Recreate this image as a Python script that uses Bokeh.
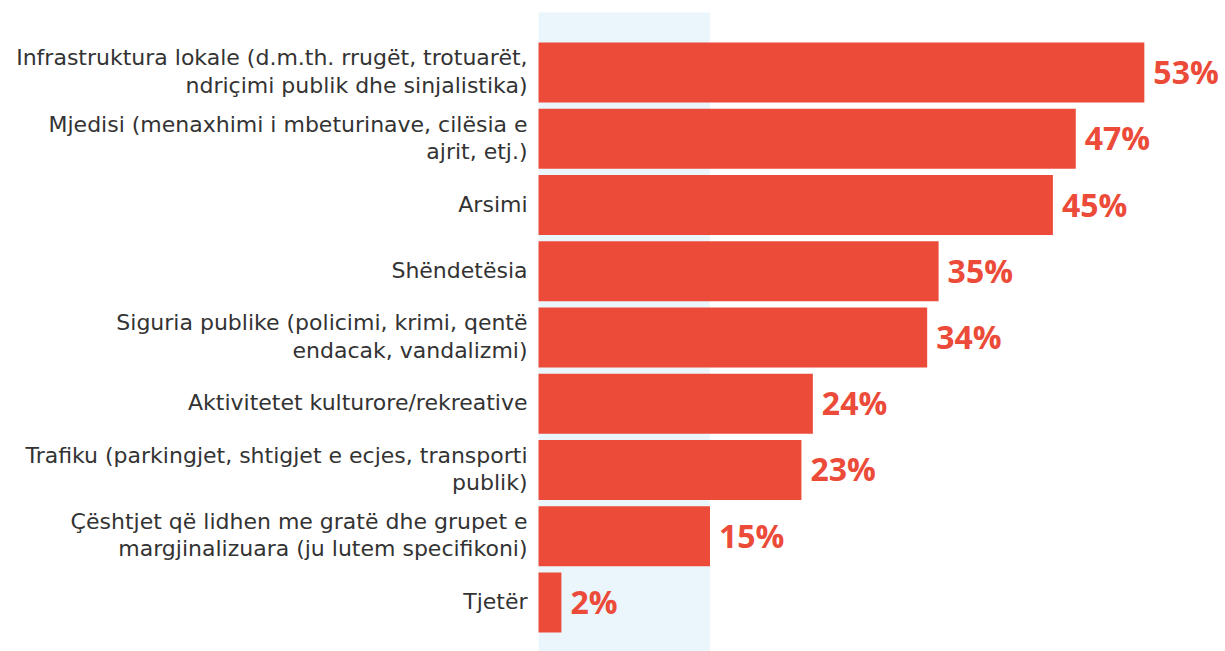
from bokeh.plotting import figure
from bokeh.models import Range1d, ColumnDataSource
from bokeh.core.properties import value
from bokeh.embed import file_html
from bokeh.resources import INLINE

categories = [
    "Infrastruktura lokale (d.m.th. rrugët, trotuarët,\nndriçimi publik dhe sinjalistika)",
    "Mjedisi (menaxhimi i mbeturinave, cilësia e\najrit, etj.)",
    "Arsimi",
    "Shëndetësia",
    "Siguria publike (policimi, krimi, qentë\nendacak, vandalizmi)",
    "Aktivitetet kulturore/rekreative",
    "Trafiku (parkingjet, shtigjet e ecjes, transporti\npublik)",
    "Çështjet që lidhen me gratë dhe grupet e\nmargjinalizuara (ju lutem specifikoni)",
    "Tjetër",
]
values = [53, 47, 45, 35, 34, 24, 23, 15, 2]
value_labels = ["53%", "47%", "45%", "35%", "34%", "24%", "23%", "15%", "2%"]
band_range = [0, 15]

RED = "#EB4B38"
BAND = "#EAF6FC"

pos = list(range(len(categories)))
src = ColumnDataSource(dict(y=pos, v=values, cat=categories, lab=value_labels,
                            lx=[0] * len(pos)))

W, H = 1225, 651
p = figure(width=W, height=H, output_backend="svg", toolbar_location=None,
           x_range=Range1d(-47.07, 60.10), y_range=Range1d(8.74, -1.087),
           min_border=0, min_border_left=0, min_border_right=0,
           min_border_top=0, min_border_bottom=0)
p.axis.visible = False
p.grid.visible = False
p.outline_line_color = None
p.background_fill_color = "white"

# light blue band
p.quad(left=[band_range[0]], right=[band_range[1]], top=[-0.906], bottom=[8.74],
       fill_color=BAND, line_color=None)

p.hbar(y="y", right="v", left=0, height=0.906, source=src,
       fill_color=RED, line_color=None)

p.text(x="lx", y="y", text="cat", source=src, x_offset=-11, y_offset=-1,
       text_align="right", text_baseline="middle",
       text_font=value("DejaVu Sans"), text_font_size="22px",
       text_color="#333333", text_line_height=1.1)

p.text(x="v", y="y", text="lab", source=src, x_offset=9, y_offset=-1,
       text_align="left", text_baseline="middle",
       text_font=value("Open Sans"), text_font_style="bold",
       text_font_size="32px", text_color=RED)

open("out.html", "w").write(file_html(p, INLINE))
